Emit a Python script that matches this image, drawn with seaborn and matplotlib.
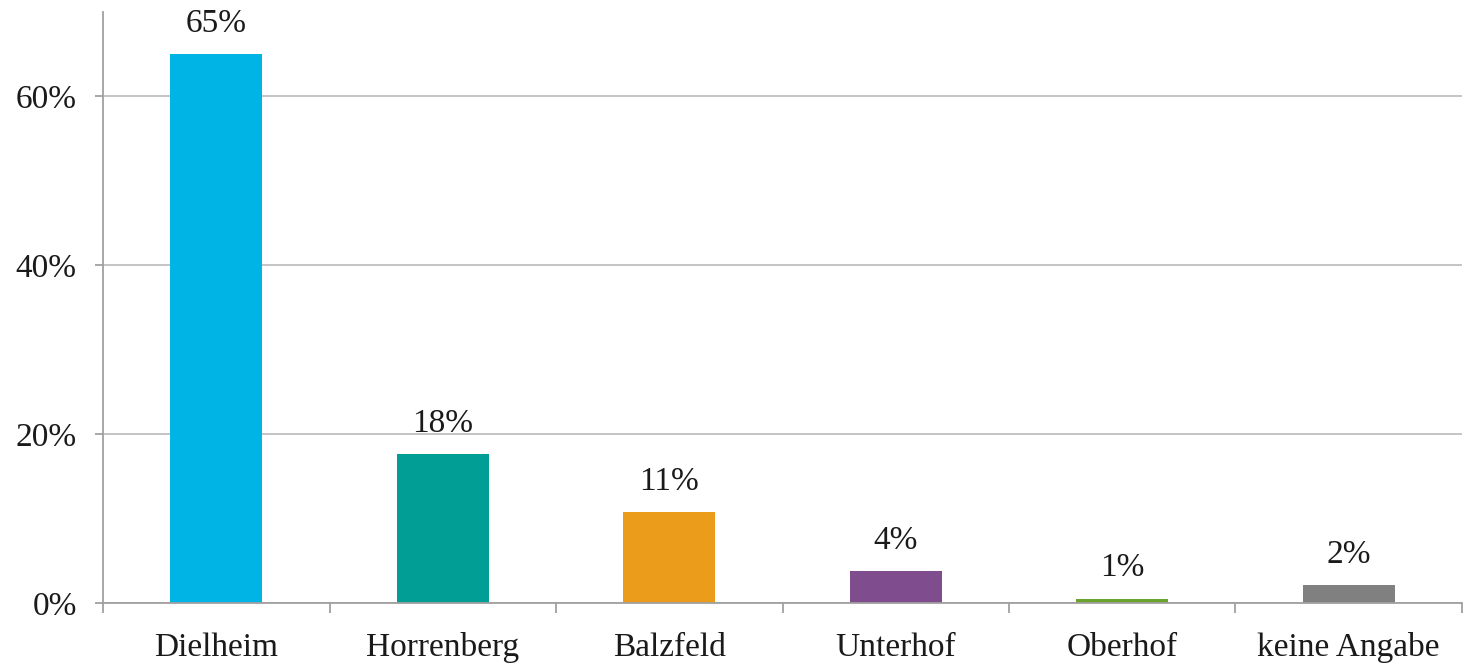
import matplotlib
matplotlib.use("Agg")
import matplotlib.pyplot as plt
import seaborn as sns
import pandas as pd
import numpy as np
from matplotlib.ticker import FixedLocator, PercentFormatter

categories = ["Dielheim", "Horrenberg", "Balzfeld", "Unterhof", "Oberhof", "keine Angabe"]
values = [65.0, 17.6, 10.8, 3.8, 0.5, 2.1]
labels = ["65%", "18%", "11%", "4%", "1%", "2%"]
colors = ["#00B5E5", "#009E94", "#EB9C1A", "#7F4D8D", "#6AA42E", "#808080"]
yticks = [0, 20, 40, 60]

sns.set_theme(style="white")
plt.rcParams["font.family"] = ["Liberation Serif", "DejaVu Serif"]

df = pd.DataFrame({"cat": categories, "val": values})

fig = plt.figure(figsize=(14.64, 6.64), dpi=100)
ax = fig.add_axes([0.0704, 0.0919, 0.9282, 0.890])
sns.barplot(data=df, x="cat", y="val", hue="cat", palette=colors, width=0.406,
            dodge=False, legend=False, ax=ax, saturation=1, linewidth=0)

ax.set_xlim(-0.5, len(categories) - 0.5)
ax.set_ylim(0, 70)
ax.set_yticks(yticks)
ax.yaxis.set_major_formatter(PercentFormatter(decimals=0))
ax.yaxis.grid(True, color="#BFBFBF", linewidth=1.3)
ax.set_axisbelow(True)
ax.set_xlabel("")
ax.set_ylabel("")

for s in ["top", "right"]:
    ax.spines[s].set_visible(False)
for s in ["left", "bottom"]:
    ax.spines[s].set_color("#A0A0A0")
    ax.spines[s].set_linewidth(1.3)

ax.tick_params(axis="y", which="major", direction="out", length=6, width=1.3, color="#A0A0A0",
               labelsize=24, pad=13, left=True)
ax.tick_params(axis="x", which="major", length=0, labelsize=24, pad=21)
ax.xaxis.set_minor_locator(FixedLocator(np.arange(-0.5, len(categories), 1.0)))
ax.tick_params(axis="x", which="minor", direction="out", length=7, width=1.3, color="#A0A0A0", bottom=True)

for i, (v, t) in enumerate(zip(values, labels)):
    ax.annotate(t, (i, v), xytext=(0, 11), textcoords="offset points", ha="center", va="bottom",
                fontsize=24, color="#1a1a1a")

for lab in ax.get_xticklabels() + ax.get_yticklabels():
    lab.set_color("#1a1a1a")

fig.savefig("out.png", dpi=100)
